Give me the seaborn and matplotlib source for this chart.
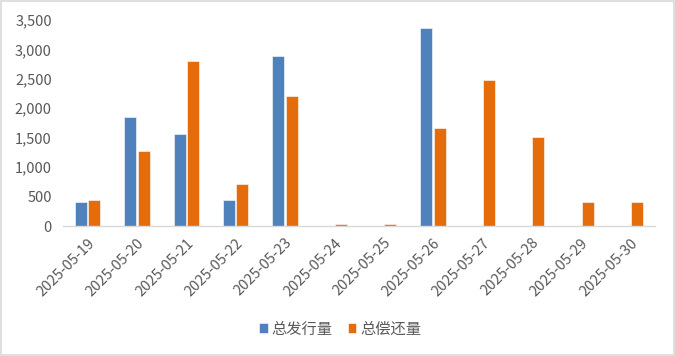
import matplotlib
matplotlib.use("Agg")
import matplotlib.pyplot as plt
import seaborn as sns
import pandas as pd
from matplotlib.patches import Rectangle
from matplotlib.ticker import FuncFormatter, MultipleLocator

dates = ["2025-05-19", "2025-05-20", "2025-05-21", "2025-05-22", "2025-05-23", "2025-05-24",
         "2025-05-25", "2025-05-26", "2025-05-27", "2025-05-28", "2025-05-29", "2025-05-30"]
issuance = [405, 1850, 1560, 440, 2885, 0, 0, 3360, 0, 0, 0, 0]
repayment = [440, 1280, 2800, 720, 2205, 30, 30, 1670, 2480, 1510, 400, 415]
series_names = ["总发行量", "总偿还量"]
colors = ["#4F81BD", "#E46C0A"]

df = pd.DataFrame({
    "date": dates * 2,
    "value": issuance + repayment,
    "series": [series_names[0]] * len(dates) + [series_names[1]] * len(dates),
})

sns.set_theme(style="white")
plt.rcParams["font.family"] = ["Noto Sans CJK SC", "DejaVu Sans"]

fig = plt.figure(figsize=(6.75, 3.56), dpi=100)
ax = fig.add_axes([63 / 675, 1 - 226 / 356, (655 - 63) / 675, (226 - 20) / 356])

sns.barplot(data=df, x="date", y="value", hue="series", palette=colors, width=0.54,
            gap=0.1, saturation=1, ax=ax, edgecolor="#FFFFFF", linewidth=0.4, legend=True)

ax.set_ylim(0, 3500)
ax.set_xlim(-0.5, len(dates) - 0.5)
ax.yaxis.set_major_locator(MultipleLocator(500))
ax.yaxis.set_major_formatter(FuncFormatter(lambda v, p: f"{int(v):,}"))
ax.set_xlabel("")
ax.set_ylabel("")
for s in ["top", "right", "left"]:
    ax.spines[s].set_visible(False)
ax.spines["bottom"].set_color("#D9D9D9")
ax.spines["bottom"].set_linewidth(1)
ax.tick_params(axis="y", labelsize=10.5, colors="#595959", length=0, pad=8)
ax.tick_params(axis="x", labelsize=10.5, colors="#595959", length=0, pad=7)
plt.setp(ax.get_xticklabels(), rotation=45, ha="right", rotation_mode="anchor")

handles, labels = ax.get_legend_handles_labels()
ax.get_legend().remove()
leg = fig.legend(handles, labels, loc="center", bbox_to_anchor=(340 / 675, 1 - 329 / 356),
                 ncol=2, frameon=False, fontsize=11, handlelength=0.55, handleheight=0.55,
                 handletextpad=0.25, columnspacing=1.0)
for t in leg.get_texts():
    t.set_color("#595959")

fig.patches.append(Rectangle((0.002, 0.003), 0.996, 0.994, transform=fig.transFigure,
                             fill=False, edgecolor="#D9D9D9", linewidth=1.2))

fig.savefig("out.png", dpi=100)
